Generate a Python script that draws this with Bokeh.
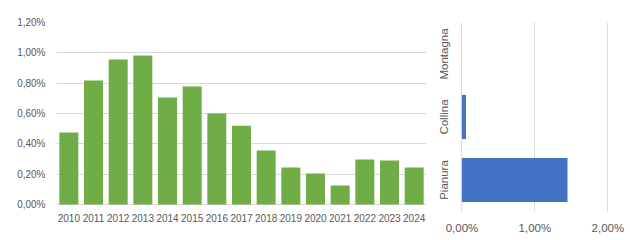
from bokeh.plotting import figure
from bokeh.layouts import row
from bokeh.models import FactorRange, Range1d, FixedTicker, CustomJSTickFormatter, ColumnDataSource
from bokeh.embed import file_html
from bokeh.resources import INLINE

years = ["2010", "2011", "2012", "2013", "2014", "2015", "2016", "2017",
         "2018", "2019", "2020", "2021", "2022", "2023", "2024"]
year_values = [0.475, 0.817, 0.956, 0.982, 0.705, 0.778, 0.600, 0.520,
               0.356, 0.244, 0.204, 0.125, 0.297, 0.290, 0.244]
y_ticks = [0, 0.2, 0.4, 0.6, 0.8, 1.0, 1.2]

zones = ["Pianura", "Collina", "Montagna"]
zone_values = [1.447, 0.055, 0.0]
x_ticks = [0, 1, 2]

GREEN = "#70AD47"
BLUE = "#4472C4"
TXT = "#595959"
GRID = "#D9D9D9"
FONT = "Liberation Sans"

fmt = CustomJSTickFormatter(code="return tick.toFixed(2).replace('.', ',') + '%';")


def style_axes(p, size):
    for ax in list(p.xaxis) + list(p.yaxis):
        ax.axis_line_color = None
        ax.major_tick_line_color = None
        ax.minor_tick_line_color = None
        ax.major_tick_out = 0
        ax.major_tick_in = 0
        ax.minor_tick_out = 0
        ax.minor_tick_in = 0
        ax.major_label_text_color = TXT
        ax.major_label_text_font = FONT
        ax.major_label_text_font_size = size


# frame spans y 22..211; value 0 sits at y=204 so the axis labels stay close
p1 = figure(width=430, height=240, x_range=FactorRange(factors=years, range_padding=0),
            y_range=Range1d(-0.0462, 1.2), output_backend="svg", toolbar_location=None,
            min_border_left=56, min_border_right=4, min_border_top=22, min_border_bottom=29)
p1.vbar(x="x", top="top", bottom=0, width=0.77, fill_color=GREEN, line_color=None,
        source=ColumnDataSource(dict(x=years, top=year_values)))
p1.yaxis.ticker = FixedTicker(ticks=y_ticks)
p1.yaxis.formatter = fmt
p1.xgrid.grid_line_color = None
p1.ygrid.grid_line_color = GRID
p1.outline_line_color = None
style_axes(p1, "10px")
p1.yaxis.major_label_standoff = 11
p1.xaxis.major_label_standoff = 2

p2 = figure(width=200, height=240, y_range=FactorRange(factors=zones, range_padding=0),
            x_range=Range1d(-0.02, 2.05), output_backend="svg", toolbar_location=None,
            min_border_left=30, min_border_right=19, min_border_top=22, min_border_bottom=29)
p2.hbar(y="y", right="right", height=0.7, fill_color=BLUE, line_color=None,
        source=ColumnDataSource(dict(y=zones, right=zone_values)))
p2.xaxis.ticker = FixedTicker(ticks=x_ticks)
p2.xaxis.formatter = fmt
p2.ygrid.grid_line_color = None
p2.xgrid.grid_line_color = GRID
p2.outline_line_color = None
style_axes(p2, "11.5px")
p2.yaxis.major_label_orientation = "vertical"
p2.yaxis.major_label_standoff = 11
p2.xaxis.major_label_standoff = 10

layout = row(p1, p2)
open("out.html", "w").write(file_html(layout, INLINE))
